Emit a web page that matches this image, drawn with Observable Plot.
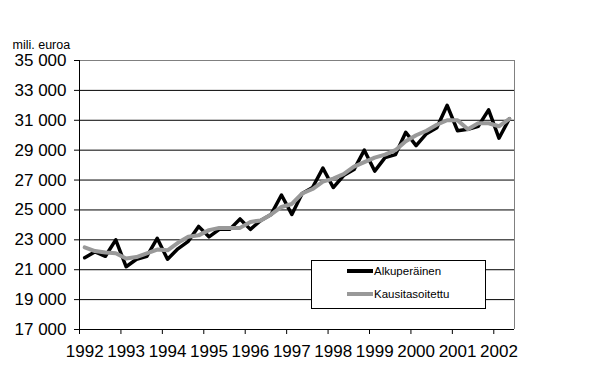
<!DOCTYPE html>
<html>
<head>
<meta charset="utf-8">
<script src="https://cdn.jsdelivr.net/npm/d3@7"></script>
<script src="https://cdn.jsdelivr.net/npm/@observablehq/plot@0.6"></script>
<style>
  html, body { margin: 0; padding: 0; background: #fff; }
  #wrap { position: relative; width: 604px; height: 381px; font-family: "Liberation Sans", Arial, sans-serif; }
  #legend { position: absolute; left: 311px; top: 260px; width: 175px; height: 49px; box-sizing: border-box; background: #fff; border: 1px solid #000; }
  .sw { position: absolute; left: 35px; width: 26px; height: 4px; }
  .lt { position: absolute; left: 62px; font-size: 11.5px; line-height: 13px; color: #000; white-space: nowrap; }
</style>
</head>
<body>
<div id="wrap"></div>
<script>
const years = [1992, 1993, 1994, 1995, 1996, 1997, 1998, 1999, 2000, 2001, 2002];
const quarters = ["I", "II", "III", "IV"];
const seriesNames = ["Alkuperäinen", "Kausitasoitettu"];
const unitLabel = "mili. euroa";
const yTicks = [17000, 19000, 21000, 23000, 25000, 27000, 29000, 31000, 33000, 35000];

// 1992 I – 2002 II, quarterly
const alkuperainen = [
  21800, 22200, 21900, 23000,
  21200, 21700, 21900, 23100,
  21700, 22400, 22900, 23900,
  23200, 23700, 23700, 24400,
  23700, 24300, 24700, 26000,
  24700, 26100, 26500, 27800,
  26500, 27300, 27700, 29000,
  27600, 28500, 28700, 30200,
  29300, 30100, 30500, 32000,
  30300, 30400, 30600, 31700,
  29800, 31100
];
const kausitasoitettu = [
  22500, 22250, 22150, 22100,
  21750, 21850, 22100, 22350,
  22300, 22800, 23200, 23300,
  23650, 23800, 23800, 23800,
  24200, 24300, 24700, 25200,
  25400, 26100, 26400, 26900,
  27100, 27400, 27900, 28200,
  28500, 28700, 29000, 29600,
  30000, 30300, 30700, 31000,
  31000, 30400, 30800, 30800,
  30600, 31100
];

const categories = [];
years.forEach(y => quarters.forEach(q => categories.push(y + "/" + q)));
const cats = categories.slice(0, alkuperainen.length);

const rows = [];
cats.forEach((c, i) => {
  rows.push({i, cat: c, series: seriesNames[0], value: alkuperainen[i]});
  rows.push({i, cat: c, series: seriesNames[1], value: kausitasoitettu[i]});
});

const n = cats.length;
const labelIdx = years.map((y, k) => k * 4).filter(i => i < n);
const boundaryIdx = labelIdx.map(i => i - 0.5);
const gridTicks = yTicks.slice(1, -1);

const fmt = d3.formatLocale({thousands: " ", grouping: [3], decimal: ","}).format(",");

const chart = Plot.plot({
  width: 604,
  height: 381,
  marginLeft: 79,
  marginRight: 90,
  marginTop: 60,
  marginBottom: 52,
  style: {fontFamily: "'Liberation Sans', Arial, sans-serif", fontSize: "17px", color: "#000", background: "#fff", overflow: "visible"},
  x: {type: "linear", domain: [-0.5, n - 0.5]},
  y: {domain: [17000, 35000]},
  marks: [
    Plot.ruleY(gridTicks, {stroke: "#000", strokeWidth: 1}),
    Plot.ruleY([yTicks[yTicks.length - 1]], {stroke: "#808080", strokeWidth: 1}),
    Plot.ruleX([n - 0.5], {stroke: "#808080", strokeWidth: 1}),
    Plot.ruleY([yTicks[0]], {stroke: "#000", strokeWidth: 1}),
    Plot.ruleX([-0.5], {stroke: "#000", strokeWidth: 1}),
    Plot.axisY({ticks: yTicks, tickFormat: fmt, tickSize: 5, tickPadding: 8, label: null, fontSize: 17}),
    Plot.axisX({ticks: boundaryIdx, tickFormat: () => "", tickSize: 5, label: null}),
    Plot.axisX({ticks: labelIdx, tickFormat: i => String(years[i / 4]), tickSize: 0, tickPadding: 15, label: null, fontSize: 17}),
    Plot.line(rows.filter(d => d.series === seriesNames[0]), {x: "i", y: "value", stroke: "#000", strokeWidth: 3.5}),
    Plot.line(rows.filter(d => d.series === seriesNames[1]), {x: "i", y: "value", stroke: "#999999", strokeWidth: 4}),
    Plot.text([unitLabel], {frameAnchor: "top-left", dx: -67, dy: -12, textAnchor: "start", lineAnchor: "bottom", fontSize: 12.5, fill: "#000"})
  ]
});

const wrap = document.getElementById("wrap");
wrap.appendChild(chart);

const legend = document.createElement("div");
legend.id = "legend";
legend.innerHTML =
  '<div class="sw" style="top:8px;background:#000"></div>' +
  '<div class="lt" style="top:4px">' + seriesNames[0] + '</div>' +
  '<div class="sw" style="top:31px;background:#999999"></div>' +
  '<div class="lt" style="top:27px">' + seriesNames[1] + '</div>';
wrap.appendChild(legend);
</script>
</body>
</html>
